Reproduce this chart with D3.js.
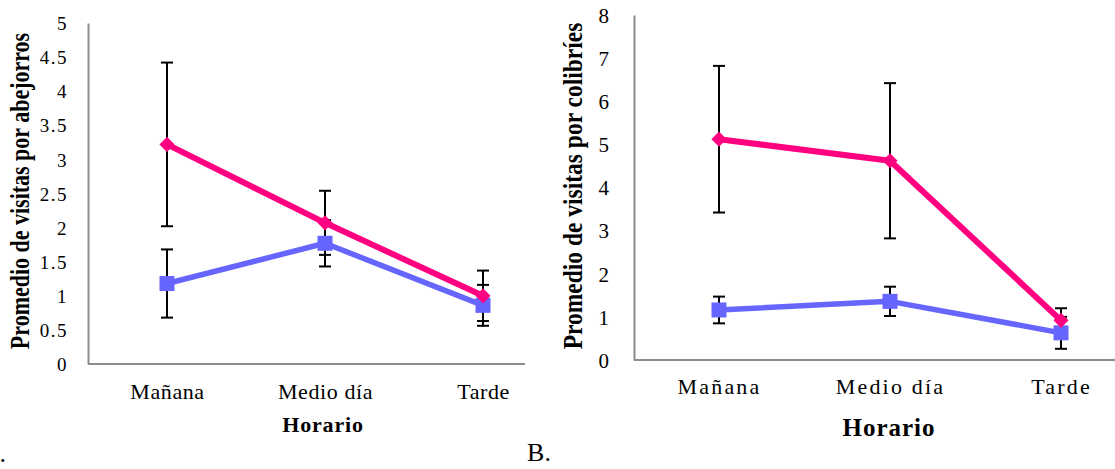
<!DOCTYPE html>
<html>
<head>
<meta charset="utf-8">
<script src="https://cdn.jsdelivr.net/npm/d3@7"></script>
<style>
  html, body { margin: 0; padding: 0; background: #fff; }
  svg { display: block; }
  text { font-family: "Liberation Serif", "Times New Roman", serif; fill: #000; }
</style>
</head>
<body>
<svg id="chart" width="1115" height="469"></svg>
<script>
// Visit frequency by time of day
const categories = ["Mañana", "Medio día", "Tarde"];

// Panel A: bumblebee visits
const beePink = [3.22, 2.07, 1.0];
const beePinkErr = [1.2, 0.47, 0.37];
const beeBlue = [1.18, 1.77, 0.86];
const beeBlueErr = [0.5, 0.34, 0.3];
const beeTicks = [0, 0.5, 1, 1.5, 2, 2.5, 3, 3.5, 4, 4.5, 5];

// Panel B: hummingbird visits
const birdPink = [5.12, 4.62, 0.92];
const birdPinkErr = [1.7, 1.8, 0.28];
const birdBlue = [1.16, 1.36, 0.63];
const birdBlueErr = [0.31, 0.34, 0.37];
const birdTicks = [0, 1, 2, 3, 4, 5, 6, 7, 8];

const PINK = "#FF0080";
const BLUE = "#6666FF";
const AXIS = "#8c8c8c";

const svg = d3.select("#chart");

function panel(cfg) {
  const g = svg.append("g");
  const x = d3.scalePoint().domain(categories).range(cfg.xRange);
  const y = d3.scaleLinear().domain([0, cfg.yMax]).range([cfg.bottom, cfg.top]);

  // y axis with its labels
  const yAxis = d3.axisLeft(y)
    .tickValues(cfg.ticks)
    .tickFormat(d3.format(""))
    .tickSize(0)
    .tickSizeOuter(0)
    .tickPadding(cfg.tickPad);
  const ya = g.append("g").attr("transform", `translate(${cfg.left},0)`).call(yAxis);
  ya.select(".domain").attr("stroke", AXIS).attr("stroke-width", 2);
  ya.selectAll(".tick text")
    .attr("font-size", cfg.tickFont)
    .attr("letter-spacing", cfg.tickSpacing)
    .attr("dy", cfg.tickDy);

  // x axis baseline
  g.append("line")
    .attr("x1", cfg.left).attr("x2", cfg.right)
    .attr("y1", y(0)).attr("y2", y(0))
    .attr("stroke", AXIS).attr("stroke-width", 2);

  // category labels
  const xAxis = d3.axisBottom(x).tickSize(0).tickPadding(0);
  const xa = g.append("g").attr("transform", `translate(0,${cfg.catBaseline})`).call(xAxis);
  xa.select(".domain").remove();
  xa.selectAll(".tick text")
    .attr("font-size", cfg.catFont)
    .attr("letter-spacing", cfg.catSpacing)
    .attr("dy", 0)
    .attr("y", 0);

  // axis titles
  g.append("text")
    .attr("transform", `translate(${cfg.xTitle[0]},${cfg.xTitle[1]})`)
    .attr("text-anchor", "middle")
    .attr("font-weight", "bold")
    .attr("font-size", cfg.xTitleFont)
    .attr("letter-spacing", cfg.xTitleSpacing)
    .text("Horario");

  g.append("text")
    .attr("transform", `translate(${cfg.yTitle[0]},${cfg.yTitle[1]}) scale(${cfg.yTitleStretch},1) rotate(-90)`)
    .attr("text-anchor", "middle")
    .attr("font-weight", "bold")
    .attr("font-size", cfg.yTitleFont)
    .text(cfg.yLabel);

  const cap = 6;
  function errorBars(vals, errs) {
    const eb = g.append("g").attr("stroke", "#000").attr("stroke-width", 2);
    categories.forEach((c, i) => {
      const cx = x(c), hi = y(vals[i] + errs[i]), lo = y(vals[i] - errs[i]);
      eb.append("line").attr("x1", cx).attr("x2", cx).attr("y1", hi).attr("y2", lo);
      eb.append("line").attr("x1", cx - cap).attr("x2", cx + cap).attr("y1", hi).attr("y2", hi);
      eb.append("line").attr("x1", cx - cap).attr("x2", cx + cap).attr("y1", lo).attr("y2", lo);
    });
  }
  errorBars(cfg.blue, cfg.blueErr);
  errorBars(cfg.pink, cfg.pinkErr);

  const line = d3.line().x((d, i) => x(categories[i])).y(d => y(d));

  // blue series with square markers
  g.append("path").datum(cfg.blue)
    .attr("fill", "none").attr("stroke", BLUE).attr("stroke-width", 5.5)
    .attr("stroke-linejoin", "round").attr("d", line);
  g.selectAll(null).data(cfg.blue).enter().append("rect")
    .attr("x", (d, i) => x(categories[i]) - 7.5)
    .attr("y", d => y(d) - 7.5)
    .attr("width", 15).attr("height", 15)
    .attr("fill", BLUE);

  // pink series with diamond markers
  g.append("path").datum(cfg.pink)
    .attr("fill", "none").attr("stroke", PINK).attr("stroke-width", 6)
    .attr("stroke-linejoin", "round").attr("d", line);
  g.selectAll(null).data(cfg.pink).enter().append("path")
    .attr("transform", (d, i) => `translate(${x(categories[i])},${y(d)}) rotate(45)`)
    .attr("d", d3.symbol().type(d3.symbolSquare).size(115))
    .attr("fill", PINK);
}

panel({
  left: 88, right: 525, top: 23, bottom: 364, yMax: 5,
  xRange: [167, 483], ticks: beeTicks,
  tickPad: 20, tickFont: 19, tickSpacing: 1.5, tickDy: "0.35em",
  catBaseline: 399, catFont: 22, catSpacing: 0.6,
  xTitle: [323, 432], xTitleFont: 22, xTitleSpacing: 0.8,
  yTitle: [29, 191], yTitleFont: 22, yTitleStretch: 1.2,
  yLabel: "Promedio de visitas por abejorros",
  pink: beePink, pinkErr: beePinkErr, blue: beeBlue, blueErr: beeBlueErr
});

panel({
  left: 634, right: 1115, top: 15, bottom: 360, yMax: 8,
  xRange: [719, 1061], ticks: birdTicks,
  tickPad: 25, tickFont: 21, tickSpacing: 0, tickDy: "0.35em",
  catBaseline: 394, catFont: 22, catSpacing: 2.2,
  xTitle: [889, 436], xTitleFont: 25, xTitleSpacing: 1,
  yTitle: [582, 186], yTitleFont: 23.5, yTitleStretch: 1.12,
  yLabel: "Promedio de visitas por colibríes",
  pink: birdPink, pinkErr: birdPinkErr, blue: birdBlue, blueErr: birdBlueErr
});

// panel letters
svg.append("text").attr("x", 6).attr("y", 462).attr("text-anchor", "end")
  .attr("font-size", 26).text("A.");
svg.append("text").attr("x", 539).attr("y", 461).attr("text-anchor", "middle")
  .attr("font-size", 26).text("B.");
</script>
</body>
</html>
